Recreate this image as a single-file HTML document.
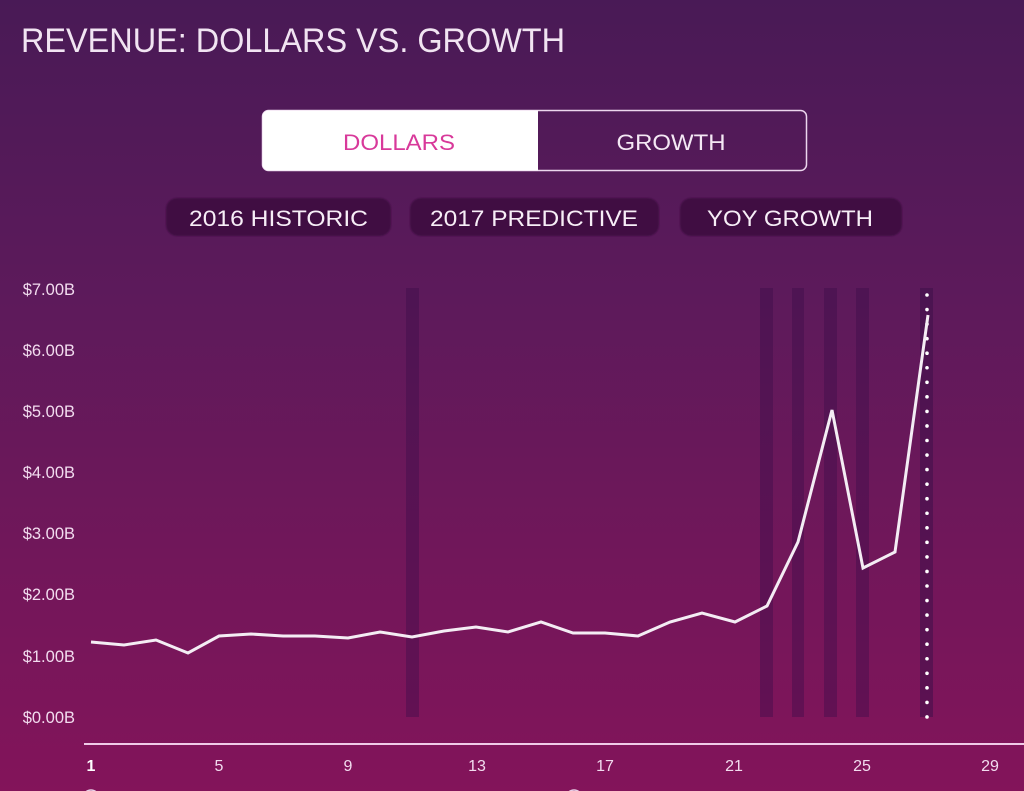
<!DOCTYPE html>
<html>
<head>
<meta charset="utf-8">
<style>
  html,body{margin:0;padding:0;width:1024px;height:791px;overflow:hidden;background:#5e1a5b;}
  svg{display:block;}
</style>
</head>
<body>
<svg width="1024" height="791" viewBox="0 0 1024 791" xmlns="http://www.w3.org/2000/svg">
  <defs>
    <linearGradient id="bg" x1="0" y1="0" x2="0" y2="1">
      <stop offset="0" stop-color="#491a56"/>
      <stop offset="0.38" stop-color="#5d1a5b"/>
      <stop offset="0.7" stop-color="#71175a"/>
      <stop offset="1" stop-color="#83145a"/>
    </linearGradient>
    <filter id="soft" x="-5%" y="-20%" width="110%" height="140%">
      <feGaussianBlur stdDeviation="0.8"/>
    </filter>
  </defs>
  <rect x="0" y="0" width="1024" height="791" fill="url(#bg)"/>

  <!-- Title -->
  <text x="21" y="52" font-family="Liberation Sans, sans-serif" font-size="34" fill="#f1e4f2" textLength="544" lengthAdjust="spacingAndGlyphs">REVENUE: DOLLARS VS. GROWTH</text>

  <!-- Toggle -->
  <rect x="262.5" y="110.5" width="544" height="60" rx="6" ry="6" fill="none" stroke="#ecd6ee" stroke-width="1.5"/>
  <path d="M268.5,110.5 H538 V170.5 H268.5 A6,6 0 0 1 262.5,164.5 V116.5 A6,6 0 0 1 268.5,110.5 Z" fill="#ffffff"/>
  <text x="399" y="150" text-anchor="middle" font-family="Liberation Sans, sans-serif" font-size="22" fill="#d8399a" textLength="112" lengthAdjust="spacingAndGlyphs">DOLLARS</text>
  <text x="671" y="150" text-anchor="middle" font-family="Liberation Sans, sans-serif" font-size="22" fill="#f4e8f4" textLength="109" lengthAdjust="spacingAndGlyphs">GROWTH</text>

  <!-- Pills -->
  <g filter="url(#soft)" fill="#3f1042">
    <rect x="166" y="198" width="225" height="38" rx="11" ry="11"/>
    <rect x="410" y="198" width="249" height="38" rx="11" ry="11"/>
    <rect x="680" y="198" width="222" height="38" rx="11" ry="11"/>
  </g>
  <text x="278.5" y="226" text-anchor="middle" font-family="Liberation Sans, sans-serif" font-size="22" fill="#f7eef7" textLength="179" lengthAdjust="spacingAndGlyphs">2016 HISTORIC</text>
  <text x="534" y="226" text-anchor="middle" font-family="Liberation Sans, sans-serif" font-size="22" fill="#f7eef7" textLength="208" lengthAdjust="spacingAndGlyphs">2017 PREDICTIVE</text>
  <text x="790" y="226" text-anchor="middle" font-family="Liberation Sans, sans-serif" font-size="22" fill="#f7eef7" textLength="166" lengthAdjust="spacingAndGlyphs">YOY GROWTH</text>

  <!-- Y axis labels -->
  <g font-family="Liberation Sans, sans-serif" font-size="16.5" fill="#f2dcef" text-anchor="end">
    <text x="75" y="295">$7.00B</text>
    <text x="75" y="356">$6.00B</text>
    <text x="75" y="417">$5.00B</text>
    <text x="75" y="478">$4.00B</text>
    <text x="75" y="539">$3.00B</text>
    <text x="75" y="600">$2.00B</text>
    <text x="75" y="662">$1.00B</text>
    <text x="75" y="723">$0.00B</text>
  </g>

  <!-- Vertical bars -->
  <g fill="#3a0d48" fill-opacity="0.4">
    <rect x="406" y="288" width="13" height="429"/>
    <rect x="760" y="288" width="13" height="429"/>
    <rect x="792" y="288" width="12" height="429"/>
    <rect x="824" y="288" width="13" height="429"/>
    <rect x="856" y="288" width="13" height="429"/>
  </g>
  <rect x="920" y="288" width="13" height="429" fill="#3a0d48" fill-opacity="0.5"/>

  <!-- Dotted line -->
  <line x1="927" y1="295" x2="927" y2="718" stroke="#ffffff" stroke-width="3.6" stroke-linecap="round" stroke-dasharray="0 14.55"/>

  <!-- Revenue line -->
  <polyline fill="none" stroke="#f4edf4" stroke-width="3" stroke-linejoin="miter" stroke-linecap="butt"
    points="91,642 124,645 156,640 188,653 219,636 251,634 283,636 315,636 348,638 380,632 412,637 444,631 476,627 508,632 541,622 573,633 605,633 638,636 670,622 702,613 735,622 767,606 798,542 832,410 863,568 895,552 928,315"/>

  <!-- X axis -->
  <line x1="84" y1="744" x2="1024" y2="744" stroke="#f0cbe8" stroke-width="2"/>
  <g font-family="Liberation Sans, sans-serif" font-size="16" fill="#f2dcef" text-anchor="middle">
    <text x="91" y="771" font-weight="bold" fill="#ffffff">1</text>
    <text x="219" y="771">5</text>
    <text x="348" y="771">9</text>
    <text x="477" y="771">13</text>
    <text x="605" y="771">17</text>
    <text x="734" y="771">21</text>
    <text x="862" y="771">25</text>
    <text x="990" y="771">29</text>
  </g>

  <!-- partial legend markers at bottom edge -->
  <circle cx="91" cy="798" r="8" fill="none" stroke="#e8cfe6" stroke-width="1.5"/>
  <circle cx="574" cy="798" r="8" fill="none" stroke="#e8cfe6" stroke-width="1.5"/>
</svg>
</body>
</html>
